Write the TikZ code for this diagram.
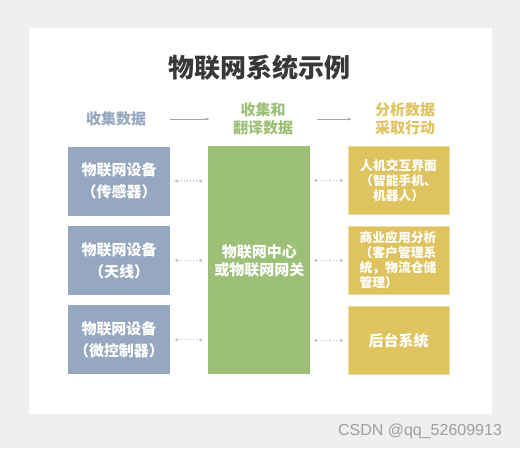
\documentclass[tikz,border=0pt]{standalone}
\usepackage{fontspec}
\setmainfont{Noto Sans CJK SC}
\newfontfamily\wmfont{Liberation Sans}
\usetikzlibrary{arrows.meta, positioning}
\definecolor{bgGray}{HTML}{EFEFEF}
\definecolor{devBlue}{HTML}{96A8C0}
\definecolor{hubGreen}{HTML}{9DC077}
\definecolor{actGold}{HTML}{DFC35F}
\definecolor{titleGray}{HTML}{383838}
\tikzset{
	devbox/.style={rectangle, minimum width=102pt, minimum height=69pt, inner sep=0pt, align=center, fill=devBlue, text=white, font=\fontsize{15}{22}\selectfont\bfseries},
	hubbox/.style={rectangle, minimum width=102pt, minimum height=228pt, inner sep=0pt, align=center, fill=hubGreen, text=white, font=\fontsize{15}{18}\selectfont\bfseries},
	actbox/.style={rectangle, minimum width=101pt, minimum height=68pt, inner sep=0pt, align=center, fill=actGold, draw=actGold!55!white, line width=1pt, text=white, font=\fontsize{12.8}{15}\selectfont\bfseries},
	header/.style={align=center, font=\fontsize{15}{18}\selectfont\bfseries},
	flow/.style={draw=gray!70, line width=0.6pt, -{Stealth[length=4pt, width=3pt]}, shorten <=20pt, shorten >=20pt},
	link/.style={draw=gray!45, dotted, line width=1.1pt, {Circle[length=3pt]}-{Circle[length=3pt]}}
}
\begin{document}
\begin{tikzpicture}[x=1pt, y=-1pt, node distance=10pt and 38pt]
	% Fondo y panel blanco
	\useasboundingbox[fill=bgGray] (0,0) rectangle (520,448);
	\fill[white] (29,28) rectangle (492,414);
	\node (title) at (259,68) [font=\fontsize{26}{30}\selectfont\bfseries, text=titleGray] {物联网系统示例};
	
	% Columna izquierda: dispositivos
	\node (dev1) at (119,181) [devbox] {物联网设备\\（传感器）};
	\node (dev2) [devbox, below=of dev1] {物联网设备\\（天线）};
	\node (dev3) [devbox, below=of dev2] {物联网设备\\（微控制器）};
	
	% Centro y columna derecha
	\node (hub) [hubbox, right=of dev2] {物联网中心\\或物联网网关};
	\node (act2) [actbox, right=37pt of hub] {\begin{minipage}{78pt}商业应用分析\\（客户管理系\\统，物流仓储\\管理）\end{minipage}};
	\node (act1) [actbox, above=11pt of act2] {人机交互界面\\（智能手机、\\机器人）};
	\node (act3) [actbox, below=11pt of act2, font=\fontsize{15}{18}\selectfont\bfseries] {后台系统};
	
	% Encabezados
	\node (hd1) at (116,119) [header, text=devBlue] {收集数据};
	\node (hd2) at (263,119) [header, text=hubGreen] {收集和\\翻译数据};
	\node (hd3) at (405,119) [header, text=actGold] {分析数据\\采取行动};
	\draw [flow] (hd1) -- (hd2);
	\draw [flow] (hd2) -- (hd3);
	
	% Conexiones punteadas
	\foreach \i in {1,2,3} {
		\draw [link, shorten <=5pt, shorten >=6pt] (dev\i.east) -- (dev\i.east -| hub.west);
		\draw [link, shorten <=4pt, shorten >=5pt] (act\i.west -| hub.east) -- (act\i.west);
	}
	
	\node (wm) at (420,431) [font=\wmfont\fontsize{16}{18}\selectfont, text=gray!75] {CSDN @qq\_52609913};
\end{tikzpicture}
\end{document}
